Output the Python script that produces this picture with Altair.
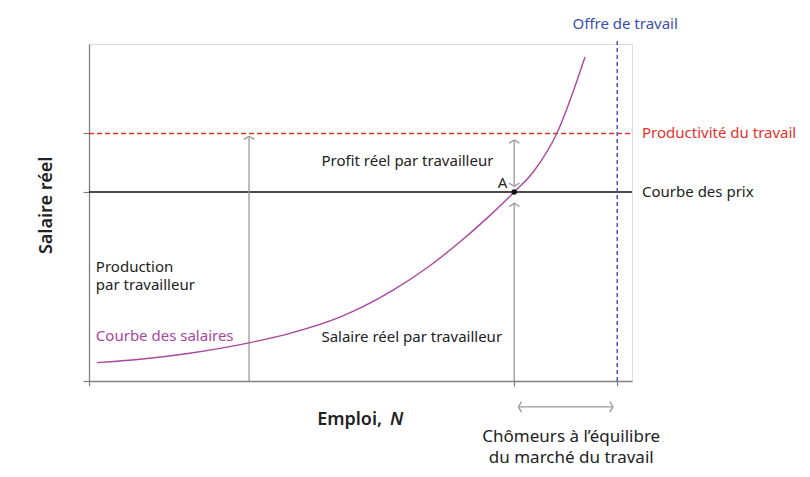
import altair as alt
import pandas as pd

# Wage-setting curve (Courbe des salaires): employment N, real wage W
curve_n = [1.5, 9.7, 19.1, 30.5, 38.0, 47.5, 51.3, 57.5, 64.0, 70.2, 75.4, 80.5, 84.1, 88.6, 93.9]
curve_w = [9.7, 11.5, 14.7, 20.3, 25.2, 33.8, 38.5, 47.9, 59.9, 73.5, 86.3, 100, 110.6, 131.2, 171.4]

price_w = 100          # Courbe des prix
productivity_w = 131   # Productivité du travail
supply_n = 100         # Offre de travail
eq_n = 80.5            # equilibrium employment at A
prod_arrow_n = 30.3    # "Production par travailleur" arrow

X_MAX, Y_MAX = 102.8, 178.3
FONT = "Noto Sans"
PURPLE = "#a8479f"
RED = "#e8302a"
BLUE = "#3a4fae"
GRAY = "#9a9a9a"
TXT = "#222222"

xs = alt.Scale(domain=[0, X_MAX], nice=False, zero=False)
ys = alt.Scale(domain=[0, Y_MAX], nice=False, zero=False)

curve_df = pd.DataFrame({"N": curve_n, "W": curve_w})

axis_x = alt.Axis(values=[0, eq_n, supply_n], labels=False, title=None, grid=False,
                  domainColor="#808080", tickColor="#808080", tickSize=5, domainWidth=1.3, tickWidth=1.2)
axis_y = alt.Axis(values=[0, price_w, productivity_w], labels=False, title=None, grid=False,
                  domainColor="#808080", tickColor="#808080", tickSize=6, domainWidth=1.3, tickWidth=1.2)

base = alt.Chart(curve_df).mark_line(opacity=0).encode(
    x=alt.X("N:Q", scale=xs, axis=axis_x),
    y=alt.Y("W:Q", scale=ys, axis=axis_y),
)

hl = pd.DataFrame({"x0": [0, 0], "x1": [X_MAX, X_MAX], "y": [price_w, productivity_w],
                   "kind": ["prix", "prod"]})
price_line = alt.Chart(hl[hl.kind == "prix"]).mark_rule(color="#111111", strokeWidth=1.4).encode(
    x=alt.X("x0:Q", scale=xs), x2="x1:Q", y=alt.Y("y:Q", scale=ys))
prod_line = alt.Chart(hl[hl.kind == "prod"]).mark_rule(color=RED, strokeWidth=1.5, strokeDash=[5, 3]).encode(
    x=alt.X("x0:Q", scale=xs), x2="x1:Q", y=alt.Y("y:Q", scale=ys))

supply_line = alt.Chart(pd.DataFrame({"x": [supply_n], "y0": [0], "y1": [181]})).mark_rule(
    color=BLUE, strokeWidth=1.4, strokeDash=[4, 3]).encode(
    x=alt.X("x:Q", scale=xs), y=alt.Y("y0:Q", scale=ys), y2="y1:Q")

curve = alt.Chart(curve_df).mark_line(color=PURPLE, strokeWidth=1.4, interpolate="monotone").encode(
    x=alt.X("N:Q", scale=xs), y=alt.Y("W:Q", scale=ys))

# gray arrows (shafts)
arrows = pd.DataFrame({
    "x0": [prod_arrow_n, eq_n, eq_n, eq_n + 0.8],
    "x1": [prod_arrow_n, eq_n, eq_n, supply_n - 0.8],
    "y0": [0, 0, price_w + 3.0, -13.7],
    "y1": [productivity_w - 1.5, price_w - 6.0, productivity_w - 3.5, -13.7],
})
shafts = alt.Chart(arrows).mark_rule(color=GRAY, strokeWidth=1.3).encode(
    x=alt.X("x0:Q", scale=xs), x2="x1:Q", y=alt.Y("y0:Q", scale=ys), y2="y1:Q")

chevron = "M-1,0.6L0,0L1,0.6"
heads = pd.DataFrame({
    "x": [prod_arrow_n, eq_n, eq_n, eq_n, eq_n + 0.8, supply_n - 0.8],
    "y": [productivity_w - 1.5, price_w - 6.0, productivity_w - 3.5, price_w + 3.0, -13.7, -13.7],
    "ang": [0, 0, 0, 180, 270, 90],
})
head_marks = alt.Chart(heads).mark_point(shape=chevron, size=110, filled=False, stroke=GRAY,
                                         strokeWidth=1.3, opacity=1).encode(
    x=alt.X("x:Q", scale=xs), y=alt.Y("y:Q", scale=ys), angle=alt.Angle("ang:Q", scale=None))

point_a = alt.Chart(pd.DataFrame({"x": [eq_n], "y": [price_w]})).mark_point(
    filled=True, color="#111111", size=30, opacity=1).encode(
    x=alt.X("x:Q", scale=xs), y=alt.Y("y:Q", scale=ys))

# annotations
labels = pd.DataFrame([
    {"t": "Offre de travail", "x": 101.5, "y": 186.0, "c": BLUE, "a": "center", "s": 15},
    {"t": "Productivité du travail", "x": 104.7, "y": 128.6, "c": RED, "a": "left", "s": 15},
    {"t": "Courbe des prix", "x": 104.7, "y": 97.5, "c": TXT, "a": "left", "s": 15},
    {"t": "Profit réel par travailleur", "x": 44.0, "y": 113.8, "c": TXT, "a": "left", "s": 15},
    {"t": "A", "x": 77.4, "y": 102.3, "c": TXT, "a": "left", "s": 15},
    {"t": "Production", "x": 1.3, "y": 57.8, "c": TXT, "a": "left", "s": 15},
    {"t": "par travailleur", "x": 1.3, "y": 48.1, "c": TXT, "a": "left", "s": 15},
    {"t": "Courbe des salaires", "x": 1.3, "y": 21.2, "c": PURPLE, "a": "left", "s": 15},
    {"t": "Salaire réel par travailleur", "x": 44.0, "y": 20.8, "c": TXT, "a": "left", "s": 15},
    {"t": "Chômeurs à l’équilibre", "x": 91.3, "y": -32.1, "c": TXT, "a": "center", "s": 17},
    {"t": "du marché du travail", "x": 91.3, "y": -43.2, "c": TXT, "a": "center", "s": 17},
])
text_marks = []
for _, r in labels.iterrows():
    text_marks.append(
        alt.Chart(pd.DataFrame([r])).mark_text(
            align=r["a"], baseline="alphabetic", font=FONT, fontSize=int(r["s"]), color=r["c"]).encode(
            x=alt.X("x:Q", scale=xs), y=alt.Y("y:Q", scale=ys), text="t:N"))

emploi = alt.Chart(pd.DataFrame({"t": ["Emploi,"], "x": [43.2], "y": [-23.3]})).mark_text(
    align="left", baseline="alphabetic", font=FONT, fontSize=18, fontWeight=600, color=TXT).encode(
    x=alt.X("x:Q", scale=xs), y=alt.Y("y:Q", scale=ys), text="t:N")
n_it = alt.Chart(pd.DataFrame({"t": ["N"], "x": [57.0], "y": [-23.3]})).mark_text(
    align="left", baseline="alphabetic", font=FONT, fontSize=18, fontWeight=600, fontStyle="italic",
    color=TXT).encode(x=alt.X("x:Q", scale=xs), y=alt.Y("y:Q", scale=ys), text="t:N")
ytitle = alt.Chart(pd.DataFrame({"t": ["Salaire réel"], "x": [-7.0], "y": [92.9]})).mark_text(
    align="center", baseline="alphabetic", angle=270, font=FONT, fontSize=18, fontWeight=600,
    color=TXT).encode(x=alt.X("x:Q", scale=xs), y=alt.Y("y:Q", scale=ys), text="t:N")

chart = alt.layer(
    base, prod_line, price_line, supply_line, shafts, head_marks, curve, point_a,
    *text_marks, emploi, n_it, ytitle
).properties(
    width=543, height=337,
    autosize=alt.AutoSizeParams(type="none"),
    padding={"left": 81, "top": 36, "right": 170, "bottom": 88},
).configure_view(stroke=None).configure(background="white")

chart.save("out.html", embed_options={"renderer": "svg", "actions": False})
